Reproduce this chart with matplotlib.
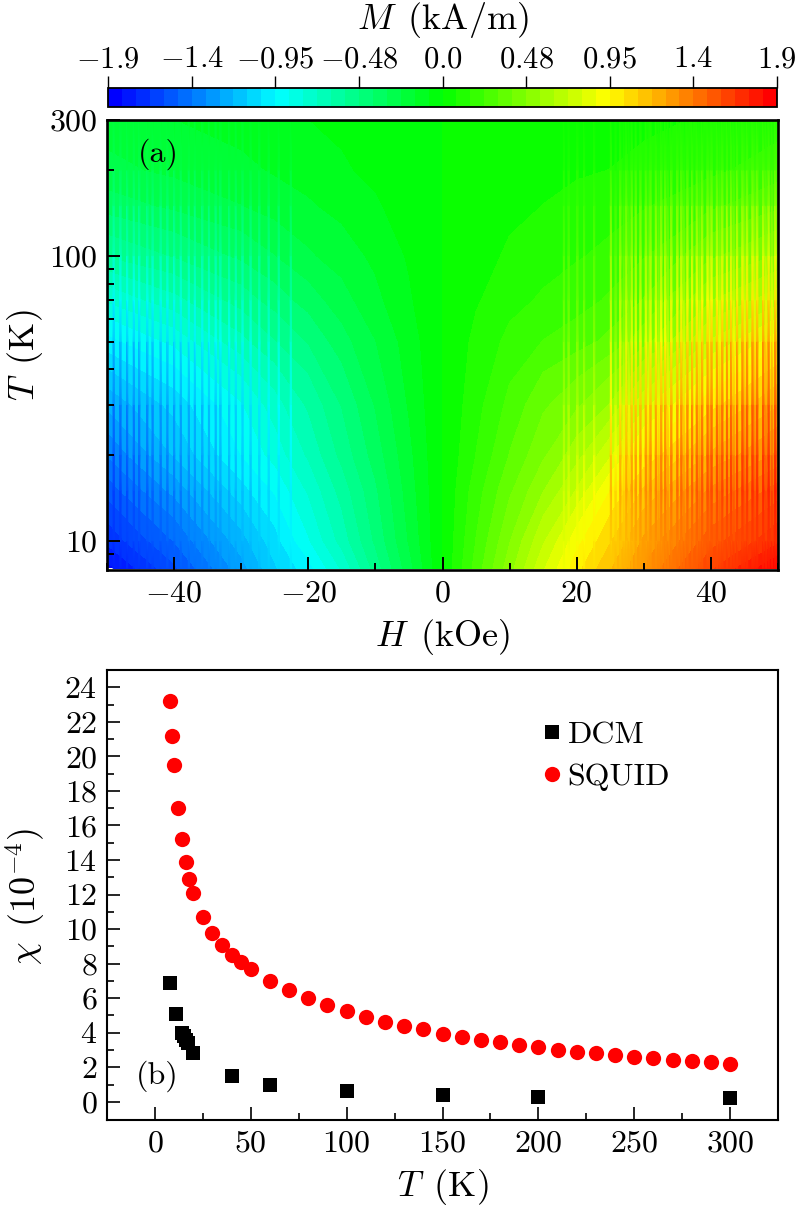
import matplotlib
matplotlib.use('Agg')
import matplotlib.pyplot as plt
import numpy as np
from matplotlib.cm import ScalarMappable
from matplotlib.colors import LinearSegmentedColormap, BoundaryNorm, Normalize

plt.rcParams['font.family'] = 'serif'
plt.rcParams['font.serif'] = ['cmr10']
plt.rcParams['mathtext.fontset'] = 'cm'
plt.rcParams['axes.unicode_minus'] = False
plt.rcParams['axes.formatter.use_mathtext'] = True

# panel (a), colours read back to M values
field = [-50, -40, -30, -25, -20, -15, -10, -5, 0, 5, 10, 15, 20, 25, 30, 40, 50]
temps = [8, 10, 15, 20, 30, 50, 70, 100, 150, 200, 300]
M_grid = [
    [-1.85, -1.60, -1.30, -1.12, -0.98, -0.78, -0.52, -0.27, 0.00, 0.27, 0.52, 0.78, 1.00, 1.18, 1.35, 1.65, 1.90],
    [-1.72, -1.50, -1.22, -1.06, -0.88, -0.68, -0.46, -0.23, 0.00, 0.24, 0.47, 0.70, 0.92, 1.10, 1.28, 1.55, 1.72],
    [-1.55, -1.32, -1.06, -0.94, -0.78, -0.60, -0.41, -0.20, 0.00, 0.20, 0.38, 0.55, 0.72, 0.95, 1.12, 1.36, 1.54],
    [-1.42, -1.18, -0.95, -0.84, -0.70, -0.53, -0.36, -0.18, 0.00, 0.16, 0.32, 0.46, 0.60, 0.78, 0.97, 1.20, 1.36],
    [-1.25, -1.08, -0.88, -0.75, -0.62, -0.47, -0.31, -0.15, 0.00, 0.13, 0.26, 0.38, 0.46, 0.56, 0.77, 1.00, 1.18],
    [-0.98, -0.85, -0.66, -0.56, -0.47, -0.35, -0.24, -0.12, 0.00, 0.10, 0.18, 0.24, 0.28, 0.34, 0.44, 0.72, 0.92],
    [-0.78, -0.66, -0.52, -0.44, -0.36, -0.27, -0.18, -0.09, 0.00, 0.07, 0.13, 0.17, 0.20, 0.25, 0.32, 0.55, 0.68],
    [-0.55, -0.47, -0.38, -0.32, -0.25, -0.20, -0.14, -0.07, 0.00, 0.05, 0.09, 0.12, 0.15, 0.18, 0.23, 0.38, 0.48],
    [-0.36, -0.30, -0.24, -0.20, -0.17, -0.13, -0.09, -0.04, 0.00, 0.03, 0.06, 0.08, 0.10, 0.12, 0.15, 0.22, 0.30],
    [-0.26, -0.22, -0.18, -0.15, -0.12, -0.09, -0.06, -0.03, 0.00, 0.02, 0.04, 0.06, 0.07, 0.08, 0.10, 0.14, 0.20],
    [-0.20, -0.16, -0.12, -0.10, -0.08, -0.06, -0.04, -0.02, 0.00, 0.01, 0.02, 0.03, 0.04, 0.05, 0.06, 0.09, 0.12],
]
streak_right = [25.1, 26.5, 27.4, 28.2, 28.8, 29.5, 30.3, 31.0, 31.8, 32.6, 33.2, 34.1, 35.0, 35.6, 36.5, 37.2,
                37.9, 38.7, 39.5, 40.1, 40.9, 41.7, 42.4, 43.0, 43.9, 44.7, 45.4, 46.2, 46.9, 47.8, 48.6, 49.6]
streak_faint = [18.1, 18.8, 20.1, 21.1, 22.6, 25.8, 27.0, 27.8, 30.7, 32.2, 33.6, 36.0, 38.3, 39.8, 41.3, 43.4,
                45.0, 46.5, 48.2, 49.1]
streak_left = [-49.0, -48.0, -47.0, -46.0, -45.2, -44.0, -43.2, -42.0, -41.0, -40.0, -39.0, -37.8, -36.9, -35.8,
               -34.8, -33.8, -33.1, -31.8, -30.8, -29.8, -28.6, -27.3, -25.9, -24.4, -22.6]
streak_amp = [0.0, 0.0, 0.22, 0.30, 0.34, 0.36, 0.34, 0.30, 0.20, 0.10, 0.0]

cbar_ticks = [-1.9, -1.425, -0.95, -0.475, 0.0, 0.475, 0.95, 1.425, 1.9]
cbar_labels = ['$-1.9$', '$-1.4$', '$-0.95$', '$-0.48$', '$0.0$', '$0.48$', '$0.95$', '$1.4$', '$1.9$']

# panel (b)
T_dcm = [8, 11, 14, 15, 16, 17, 20, 40, 60, 100, 150, 200, 300]
chi_dcm = [6.9, 5.1, 4.0, 3.8, 3.6, 3.4, 2.8, 1.5, 1.0, 0.6, 0.4, 0.3, 0.2]
T_squid = [8, 9, 10, 12, 14, 16, 18, 20, 25, 30, 35, 40, 45, 50, 60, 70, 80, 90, 100, 110, 120, 130, 140,
           150, 160, 170, 180, 190, 200, 210, 220, 230, 240, 250, 260, 270, 280, 290, 300]
chi_squid = [23.2, 21.2, 19.5, 17.0, 15.2, 13.9, 12.9, 12.1, 10.7, 9.8, 9.1, 8.5, 8.1, 7.7, 7.0, 6.45, 6.0, 5.6,
             5.25, 4.9, 4.65, 4.4, 4.2, 3.95, 3.75, 3.6, 3.45, 3.3, 3.15, 3.0, 2.9, 2.8, 2.7, 2.6, 2.55, 2.45,
             2.35, 2.3, 2.2]

W, H = 800, 1209
fs = 23
fl = 26

def px_axes(x0, y0, x1, y1):
    return fig.add_axes([x0/W, 1-y1/H, (x1-x0)/W, (y1-y0)/H])

def draw_streaks(ax, positions, gain):
    grid = np.array(M_grid)
    for s in positions:
        vals = [np.interp(s, field, row) for row in grid]
        vals = np.array(vals) + np.sign(s)*gain*np.array(streak_amp)
        ax.pcolormesh([s-0.09, s+0.09], temps, np.column_stack([vals, vals]), shading='gouraud',
                      cmap=cmap, norm=Normalize(-1.9, 1.9), rasterized=True)

cmap = LinearSegmentedColormap.from_list('bcgyr', ['#0000ff', '#00ffff', '#00ff00', '#ffff00', '#ff0000'])

fig = plt.figure(figsize=(W/100, H/100), dpi=100)

# ---- panel a
ax = px_axes(107, 120, 778, 570)
levels = np.linspace(-1.9, 1.9, 49)
cf = ax.contourf(field, temps, M_grid, levels=levels, cmap=cmap, extend='both')
draw_streaks(ax, streak_faint, 0.5)
draw_streaks(ax, streak_right, 1.2)
draw_streaks(ax, streak_left, 0.6)
ax.set_yscale('log')
ax.set_xlim(-50, 50)
ax.set_ylim(7.9, 300)
ax.set_xticks([-40, -20, 0, 20, 40])
ax.set_xticklabels(['$-40$', '$-20$', '$0$', '$20$', '$40$'])
ax.set_xticks([-50, -30, -10, 10, 30, 50], minor=True)
ax.set_yticks([10, 100, 300])
ax.set_yticklabels(['$10$', '$100$', '$300$'])
ax.set_yticks([9, 20, 30, 40, 50, 60, 70, 80, 90, 200], minor=True)
ax.set_yticklabels([], minor=True)
ax.tick_params(which='major', direction='in', length=9.4, width=1.4, labelsize=fs, pad=7, top=False, right=False)
ax.tick_params(which='minor', direction='in', length=5, width=1.4, top=False, right=False)
for s in ax.spines.values():
    s.set_linewidth(1.9)
ax.set_xlabel(r'$H\ \,\mathrm{(kOe)}$', fontsize=fl)
ax.xaxis.set_label_coords(0.5, -0.105)
ax.set_ylabel(r'$T\ \,\mathrm{(K)}$', fontsize=fl)
ax.yaxis.set_label_coords(-0.092, 0.478)
ax.text(0.046, 0.925, '(a)', transform=ax.transAxes, fontsize=fs, ha='left', va='center')

# ---- colour bar
cax = px_axes(108, 88, 777, 107)
sm = ScalarMappable(norm=BoundaryNorm(levels, 48), cmap=cmap.resampled(48))
cb = fig.colorbar(sm, cax=cax, orientation='horizontal')
cb.set_ticks(cbar_ticks)
cb.set_ticklabels(cbar_labels)
cb.minorticks_off()
cax.xaxis.set_ticks_position('top')
cax.xaxis.set_label_position('top')
cax.tick_params(direction='out', length=8.6, width=1, labelsize=22, pad=2)
cb.outline.set_linewidth(1.3)
cb.set_label(r'$M\ \,\mathrm{(kA/m)}$', fontsize=fl, labelpad=12)

# ---- panel b
ax2 = px_axes(107, 670, 778, 1120)
ax2.plot(T_dcm, chi_dcm, 's', color='black', ms=9.5, mew=0, label='DCM')
ax2.plot(T_squid, chi_squid, 'o', color='#ff0000', ms=11, mew=0, label='SQUID')
ax2.set_xlim(-25, 324.5)
ax2.set_ylim(-1.05, 25)
ax2.set_xticks(range(0, 301, 50))
ax2.set_xticklabels(['$%d$' % v for v in range(0, 301, 50)])
ax2.set_xticks(range(-25, 326, 50), minor=True)
ax2.set_yticks(range(0, 25, 2))
ax2.set_yticklabels(['$%d$' % v for v in range(0, 25, 2)])
ax2.set_yticks(range(1, 25, 2), minor=True)
ax2.tick_params(which='major', direction='in', length=9.4, width=1.2, labelsize=fs, pad=7)
ax2.tick_params(which='minor', direction='in', length=5, width=1.2)
for s in ax2.spines.values():
    s.set_linewidth(1.5)
ax2.set_xlabel(r'$T\ \,\mathrm{(K)}$', fontsize=fl)
ax2.xaxis.set_label_coords(0.5, -0.105)
ax2.set_ylabel(r'$\chi\ \,(10^{-4})$', fontsize=fl)
ax2.yaxis.set_label_coords(-0.088, 0.497)
ax2.text(0.043, 0.0975, '(b)', transform=ax2.transAxes, fontsize=fs, ha='left', va='center')
ax2.legend(loc='upper left', bbox_to_anchor=(0.639, 0.887), frameon=False, fontsize=fs, handlelength=1,
           handletextpad=0.0, labelspacing=0.42, borderpad=0, borderaxespad=0, numpoints=1)

fig.savefig('out.png', dpi=100)
